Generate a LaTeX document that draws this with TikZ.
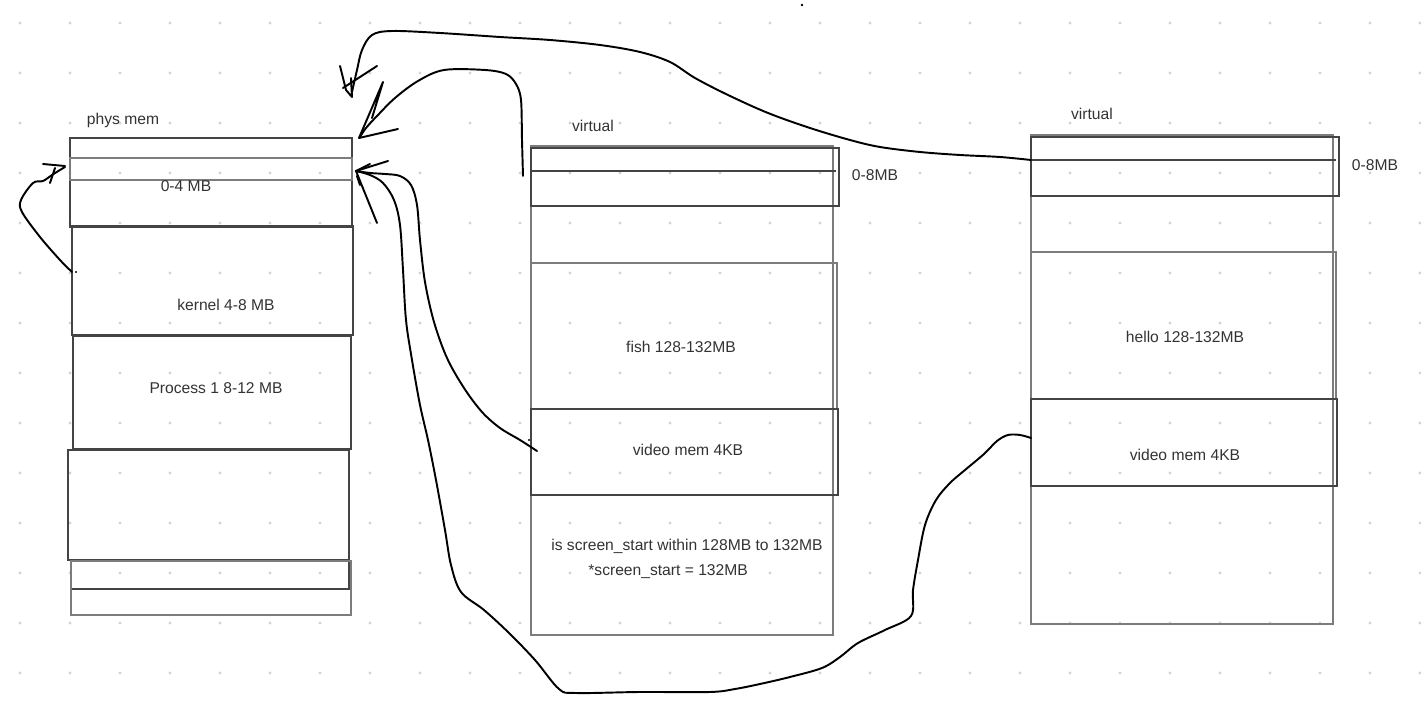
\documentclass[tikz,border=0pt]{standalone}
\usepackage{fontspec}
\setmainfont{Liberation Sans}
\usetikzlibrary{calc}
\definecolor{boxline}{HTML}{444444}
\definecolor{inktext}{HTML}{333333}
\definecolor{griddot}{HTML}{D2D2D2}
\definecolor{pen}{HTML}{000000}

\begin{document}
\begin{tikzpicture}[
    x=0.02cm, y=-0.02cm,
    memblock/.style={draw=boxline, line width=0.75pt},
    faint/.style={draw=boxline!70, line width=0.65pt},
    lbl/.style={font=\fontsize{8.9}{10.5}\selectfont, text=inktext, inner sep=0pt},
    ink/.style={draw=pen, line width=1.1pt, line cap=round, line join=round},
    scribble/.style={ink, smooth, tension=0.55}
]
\useasboundingbox (0,0) rectangle (1421,702);

% Dot grid
\foreach \i in {0,...,28}
  \foreach \j in {0,...,13}
    \fill[griddot] (20+50*\i, 23+50*\j) circle (0.9pt);

% Physical memory (left)
\draw[memblock] (70,138) rectangle (352,227);
\draw[faint] (70,158) rectangle (352,180);
\draw[memblock] (72,226) rectangle (353,335);
\draw[memblock] (73,336) rectangle (351,449);
\draw[memblock] (68,450) rectangle (349,560);
\draw[memblock] (71,561) rectangle (349,589);
\draw[faint] (71,561) rectangle (351,615);
\node[lbl] (physLbl) at (123,120) {phys mem};
\node[lbl] (lowRow) at (186,186) {0-4 MB};
\node[lbl] (kernelLbl) at (226,305) {kernel 4-8 MB};
\node[lbl] (procLbl) at (216,388) {Process 1 8-12 MB};

% Virtual space of fish (middle)
\draw[faint] (531,146) rectangle (833,635);
\draw[memblock] (531,148) rectangle (839,206);
\draw[memblock] (531,171) -- (836,171);
\draw[faint] (531,263) rectangle (837,409);
\draw[memblock] (531,409) rectangle (838,495);
\node[lbl] (virtA) at (593,126) {virtual};
\node[lbl] (virtALow) at (875,175) {0-8MB};
\node[lbl] (fishLbl) at (681,347) {fish 128-132MB};
\node[lbl] (vidA) at (688,450) {video mem 4KB};
\node[lbl, anchor=west] (checkA) at (551,546) {is screen\_start within 128MB to 132MB};
\node[lbl, anchor=west] (setA) at (588,572) {*screen\_start = 132MB};

% Virtual space of hello (right)
\draw[faint] (1031,135) rectangle (1333,624);
\draw[memblock] (1031,137) rectangle (1339,196);
\draw[memblock] (1031,160) -- (1336,160);
\draw[faint] (1031,252) rectangle (1336,399);
\draw[memblock] (1031,399) rectangle (1337,486);
\node[lbl] (virtB) at (1092,114) {virtual};
\node[lbl] (virtBLow) at (1375,165) {0-8MB};
\node[lbl] (helloLbl) at (1185,337) {hello 128-132MB};
\node[lbl] (vidB) at (1185,455) {video mem 4KB};

% Hand drawn mappings
\coordinate (kernTap) at (72,272);
\coordinate (lowTip) at (65,167);
\coordinate (fishTop) at (523,176);
\coordinate (helloTop) at (1031,160);
\coordinate (fishVid) at (537,451);
\coordinate (helloVid) at (1031,438);
\coordinate (physTopTip) at (360,137);
\coordinate (physRowTip) at (356,171);
\coordinate (farTip) at (352,92);

\draw[scribble] plot coordinates {(kernTap) (60,260) (40,237) (22,212) (21,200) (33,183)
    (43,181) (52,175) (60,170) (lowTip)};
\draw[ink] (43,164) -- (65,166);
\draw[ink] (50,183) -- (55,168);

\draw[scribble] plot coordinates {(helloTop) (1000,157) (960,155) (920,152) (880,147) (850,140)
    (810,128) (768,113) (728,95) (695,78) (670,62) (640,52) (600,45) (550,40) (500,37)
    (440,33) (392,31) (372,35) (362,50) (357,70) (farTip)};
\draw[ink] (340,66) -- (346,90) -- (352,97) -- (351,78);
\draw[ink] (343,88) -- (377,66);

\draw[scribble] plot coordinates {(fishTop) (522,140) (521,100) (516,84) (506,74) (485,70)
    (444,70) (418,81) (395,98) (377,116) (366,128) (physTopTip)};
\draw[ink] (398,129) -- (359,138) -- (383,82) -- (372,118);

\draw[scribble] plot coordinates {(fishVid) (520,440) (500,428) (482,412) (464,388) (447,358)
    (434,322) (425,282) (420,240) (417,205) (411,185) (400,176) (385,174) (370,173) (physRowTip)};
\draw[ink] (physRowTip) -- (388,161);
\draw[ink] (physRowTip) -- (370,164);
\draw[ink] (357,176) -- (360,185);

\draw[scribble] plot coordinates {(helloVid) (1020,435) (1008,435) (997,441) (984,454)
    (965,470) (950,483) (936,500) (925,525) (918,560) (913,590) (911,616) (885,630) (858,643)
    (840,657) (822,668) (790,677) (760,684) (735,689) (710,692) (640,692) (576,693) (559,689)
    (535,660) (509,633) (484,610) (461,592) (451,565) (445,530) (436,480) (428,440) (420,405)
    (412,360) (406,320) (403,270) (400,225) (394,200) (383,183) (370,175) (physRowTip)};
\draw[ink] (physRowTip) -- (377,223);

% Stray marks
\fill[pen] (76,272) circle (0.6pt);
\fill[pen] (529,440) circle (0.6pt);
\fill[pen] (802,5) circle (0.8pt);

\end{tikzpicture}
\end{document}
